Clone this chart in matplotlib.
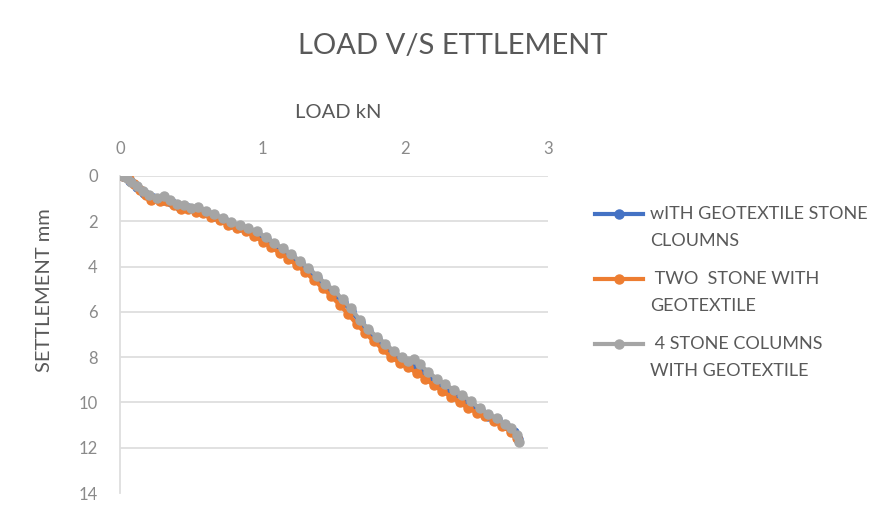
import matplotlib
matplotlib.use("Agg")
import matplotlib.pyplot as plt
from matplotlib.lines import Line2D

plt.rcParams['font.family'] = ['Lato', 'DejaVu Sans']

# load (kN) vs settlement (mm) for the three column arrangements
load_geo = [0.02, 0.07, 0.12, 0.17, 0.23, 0.30, 0.36, 0.42, 0.48, 0.54, 0.60, 0.66,
            0.72, 0.78, 0.84, 0.90, 0.96, 1.02, 1.08, 1.14, 1.20, 1.26, 1.32, 1.38,
            1.44, 1.50, 1.56, 1.62, 1.68, 1.74, 1.80, 1.86, 1.92, 1.98, 2.04, 2.10,
            2.16, 2.22, 2.28, 2.34, 2.40, 2.46, 2.52, 2.58, 2.64, 2.70, 2.76, 2.79]
sett_geo = [0.00, 0.20, 0.50, 0.75, 0.95, 1.05, 1.15, 1.35, 1.40, 1.50, 1.60, 1.75,
            1.90, 2.10, 2.25, 2.40, 2.55, 2.80, 3.05, 3.30, 3.55, 3.85, 4.15, 4.50,
            4.85, 5.20, 5.55, 5.95, 6.45, 6.85, 7.20, 7.55, 7.90, 8.15, 8.35, 8.60,
            8.85, 9.15, 9.40, 9.60, 9.85, 10.10, 10.35, 10.60, 10.75, 11.00, 11.30, 11.60]

load_two = [0.02, 0.06, 0.10, 0.14, 0.18, 0.22, 0.28, 0.33, 0.38, 0.43, 0.48, 0.53,
            0.58, 0.64, 0.70, 0.76, 0.82, 0.88, 0.94, 1.00, 1.06, 1.12, 1.18, 1.24,
            1.30, 1.36, 1.42, 1.48, 1.54, 1.60, 1.66, 1.72, 1.78, 1.84, 1.90, 1.96,
            2.02, 2.08, 2.14, 2.20, 2.26, 2.32, 2.38, 2.44, 2.50, 2.56, 2.62, 2.68,
            2.74, 2.78]
sett_two = [0.00, 0.15, 0.35, 0.60, 0.85, 1.05, 1.10, 1.10, 1.30, 1.45, 1.45, 1.60,
            1.65, 1.80, 1.95, 2.15, 2.30, 2.45, 2.65, 2.90, 3.15, 3.40, 3.65, 3.95,
            4.25, 4.60, 4.95, 5.30, 5.70, 6.10, 6.55, 6.95, 7.30, 7.65, 8.00, 8.25,
            8.45, 8.70, 8.95, 9.25, 9.50, 9.75, 10.00, 10.25, 10.45, 10.60, 10.80, 11.05,
            11.30, 11.55]

load_four = [0.02, 0.05, 0.08, 0.12, 0.16, 0.20, 0.26, 0.31, 0.35, 0.40, 0.45, 0.50,
             0.55, 0.60, 0.66, 0.72, 0.78, 0.84, 0.90, 0.96, 1.02, 1.08, 1.14, 1.20,
             1.26, 1.32, 1.38, 1.44, 1.50, 1.56, 1.62, 1.68, 1.74, 1.80, 1.86, 1.92,
             1.98, 2.02, 2.06, 2.10, 2.16, 2.22, 2.28, 2.34, 2.40, 2.46, 2.52, 2.58,
             2.64, 2.70, 2.74, 2.78, 2.80]
sett_four = [0.00, 0.10, 0.25, 0.45, 0.65, 0.85, 0.95, 0.90, 1.05, 1.25, 1.30, 1.40,
             1.35, 1.55, 1.70, 1.85, 2.05, 2.15, 2.30, 2.45, 2.70, 2.95, 3.20, 3.45,
             3.75, 4.05, 4.40, 4.75, 5.05, 5.45, 5.85, 6.35, 6.75, 7.10, 7.40, 7.75,
             8.00, 8.15, 8.10, 8.30, 8.65, 8.95, 9.20, 9.45, 9.65, 9.95, 10.25, 10.50,
             10.70, 10.95, 11.15, 11.45, 11.75]

labels = ["wITH GEOTEXTILE STONE\nCLOUMNS",
          " TWO  STONE WITH\nGEOTEXTILE",
          " 4 STONE COLUMNS\nWITH GEOTEXTILE"]
colors = ["#4472C4", "#ED7D31", "#A5A5A5"]

x_ticks = [0, 1, 2, 3]
y_ticks = [0, 2, 4, 6, 8, 10, 12, 14]

text_dark = "#595959"
text_light = "#8a8a8a"
grid_col = "#dedede"

W, H = 893, 520
fig = plt.figure(figsize=(8.93, 5.2), dpi=100)
ax = fig.add_axes([120 / W, 1 - 493 / H, 428 / W, 317 / H])

series = [(load_geo, sett_geo), (load_two, sett_two), (load_four, sett_four)]
for (x, y), c in zip(series, colors):
    ax.plot(x, y, color=c, lw=3, marker="o", ms=6.5, zorder=3)

ax.set_xlim(0, 3)
ax.set_ylim(14, 0)
ax.set_xticks(x_ticks)
ax.set_yticks(y_ticks)
ax.xaxis.tick_top()
ax.tick_params(length=0, labelsize=12, labelcolor=text_light)
ax.tick_params(axis="x", pad=14)
ax.tick_params(axis="y", pad=16)
ax.grid(axis="y", color=grid_col, lw=1.3)
ax.set_axisbelow(True)
for s in ["top", "right", "bottom"]:
    ax.spines[s].set_visible(False)
ax.spines["left"].set_color(grid_col)
ax.spines["left"].set_linewidth(1.3)
fig.canvas.draw()
ax.get_ygridlines()[-1].set_visible(False)

fig.text(453 / W, 1 - 46 / H, "LOAD V/S ETTLEMENT", ha="center", va="center",
         fontsize=21, color=text_dark)
fig.text(338 / W, 1 - 112 / H, "LOAD kN", ha="center", va="center",
         fontsize=14.5, color=text_dark)
fig.text(45 / W, 1 - 290 / H, "SETTLEMENT mm", ha="center", va="center",
         rotation=90, fontsize=14.5, color=text_dark)

# legend entries drawn by hand so the key sits on the first text line
for i, (lab, c) in enumerate(zip(labels, colors)):
    yy = 214 + i * 65
    fig.add_artist(Line2D([595 / W, 619 / W, 643 / W], [1 - yy / H] * 3,
                          transform=fig.transFigure, color=c, lw=3,
                          marker="o", ms=6.5, markevery=[1]))
    for j, line in enumerate(lab.split("\n")):
        fig.text(650 / W, 1 - (yy + 27 * j) / H, line, ha="left", va="center",
                 fontsize=13, color=text_dark)

fig.savefig("out.png", dpi=100)
